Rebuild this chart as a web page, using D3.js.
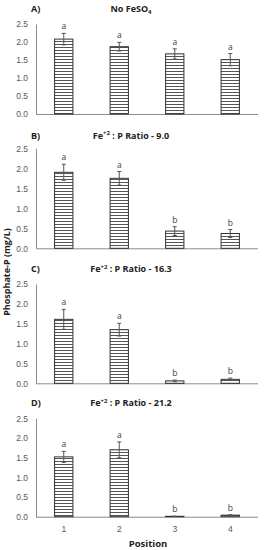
<!DOCTYPE html>
<html>
<head>
<meta charset="utf-8">
<script src="https://cdn.jsdelivr.net/npm/d3@7.9.0/dist/d3.min.js"></script>
<style>
  body { margin: 0; background: #fff; }
  svg { display: block; font-family: "Open Sans", "Liberation Sans", sans-serif; }
</style>
</head>
<body>
<svg id="chart" width="264" height="550"></svg>
<script>
const positions = ['1', '2', '3', '4'];
const yTicks = [0, 0.5, 1.0, 1.5, 2.0, 2.5];
const panelLabels = ['A)', 'B)', 'C)', 'D)'];
const ratios = [null, '9.0', '16.3', '21.2'];

const meansA = [2.08, 1.87, 1.67, 1.51];
const errA = [0.16, 0.12, 0.14, 0.17];
const lettersA = ['a', 'a', 'a', 'a'];

const meansB = [1.90, 1.75, 0.43, 0.37];
const errB = [0.20, 0.17, 0.11, 0.10];
const lettersB = ['a', 'a', 'b', 'b'];

const meansC = [1.61, 1.35, 0.06, 0.10];
const errC = [0.25, 0.16, 0.02, 0.03];
const lettersC = ['a', 'a', 'b', 'b'];

const meansD = [1.52, 1.70, 0.01, 0.04];
const errD = [0.14, 0.20, 0.005, 0.01];
const lettersD = ['a', 'a', 'b', 'b'];

const allMeans = [meansA, meansB, meansC, meansD];
const allErr = [errA, errB, errC, errD];
const allLetters = [lettersA, lettersB, lettersC, lettersD];

// pixel frames for each panel: [top of 2.5, baseline 0]
const frames = [[24, 114], [148.3, 248.3], [284, 383.3], [418.3, 516.7]];

const svg = d3.select('#chart');
const left = 36, right = 258;

// striped fill like the original hatch
const defs = svg.append('defs');
const pat = defs.append('pattern')
    .attr('id', 'stripes')
    .attr('patternUnits', 'userSpaceOnUse')
    .attr('width', 6).attr('height', 3);
pat.append('rect').attr('width', 6).attr('height', 3).attr('fill', '#fff');
pat.append('rect').attr('y', 2).attr('width', 6).attr('height', 1).attr('fill', '#555');

const x = d3.scaleBand().domain(positions).range([left, right]).paddingInner(0.67).paddingOuter(0.335);

allMeans.forEach((means, p) => {
    const [top, bottom] = frames[p];
    const y = d3.scaleLinear().domain([0, 2.5]).range([bottom, top]);
    const g = svg.append('g');

    // y axis
    const yAxis = g.append('g')
        .attr('transform', `translate(${left},0)`)
        .call(d3.axisLeft(y).tickValues(yTicks).tickSize(0).tickPadding(8).tickFormat(d3.format('.1f')));
    yAxis.select('.domain').attr('stroke', '#8c8c8c');
    yAxis.selectAll('text').attr('fill', '#595959').attr('font-size', 8.5);

    // x axis
    const xAxis = g.append('g')
        .attr('transform', `translate(0,${bottom})`)
        .call(d3.axisBottom(x).tickSize(0).tickPadding(9));
    xAxis.select('.domain').attr('stroke', '#8c8c8c').attr('d', `M${left},0.5H${right}`);
    xAxis.selectAll('text').attr('fill', '#595959').attr('font-size', 8.5);
    if (p < 3) xAxis.selectAll('text').remove();

    // bars
    g.selectAll('rect.bar')
        .data(means)
        .join('rect')
        .attr('class', 'bar')
        .attr('x', (d, i) => x(positions[i]))
        .attr('y', d => y(d))
        .attr('width', x.bandwidth())
        .attr('height', d => y(0) - y(d))
        .attr('fill', 'url(#stripes)')
        .attr('stroke', '#333')
        .attr('stroke-width', 1);

    // error bars
    const errs = allErr[p];
    means.forEach((m, i) => {
        const cx = x(positions[i]) + x.bandwidth() / 2;
        const hi = y(m + errs[i]), lo = y(Math.max(0, m - errs[i]));
        g.append('line').attr('x1', cx).attr('x2', cx).attr('y1', hi).attr('y2', lo)
            .attr('stroke', '#555').attr('stroke-width', 1);
        [hi, lo].forEach(v => g.append('line')
            .attr('x1', cx - 2).attr('x2', cx + 2).attr('y1', v).attr('y2', v)
            .attr('stroke', '#555').attr('stroke-width', 1));
        g.append('text')
            .attr('x', cx).attr('y', hi - 4)
            .attr('text-anchor', 'middle')
            .attr('font-size', 8.5).attr('fill', '#404040')
            .text(allLetters[p][i]);
    });

    // panel label and title
    const ty = top - (p === 1 ? 9.5 : 12);
    g.append('text').attr('x', 31).attr('y', ty)
        .attr('font-size', 9).attr('font-weight', 'bold').attr('fill', '#222')
        .text(panelLabels[p]);
    const title = g.append('text').attr('x', 131).attr('y', ty)
        .attr('text-anchor', 'middle')
        .attr('font-size', 9).attr('font-weight', 'bold').attr('fill', '#222');
    if (ratios[p] === null) {
        title.append('tspan').text('No FeSO');
        title.append('tspan').attr('font-size', 6).attr('dy', 2).text('4');
    } else {
        title.append('tspan').text('Fe');
        title.append('tspan').attr('font-size', 6).attr('dy', -3.5).text('+2');
        title.append('tspan').attr('dy', 3.5).text(` : P Ratio - ${ratios[p]}`);
    }
});

// axis titles
svg.append('text')
    .attr('transform', 'translate(10,272) rotate(-90)')
    .attr('text-anchor', 'middle')
    .attr('font-size', 9).attr('font-weight', 'bold').attr('fill', '#222')
    .text('Phosphate-P (mg/L)');

svg.append('text')
    .attr('x', (left + right) / 2 + 1).attr('y', 547)
    .attr('text-anchor', 'middle')
    .attr('font-size', 9.5).attr('font-weight', 'bold').attr('fill', '#222')
    .text('Position');
</script>
</body>
</html>
